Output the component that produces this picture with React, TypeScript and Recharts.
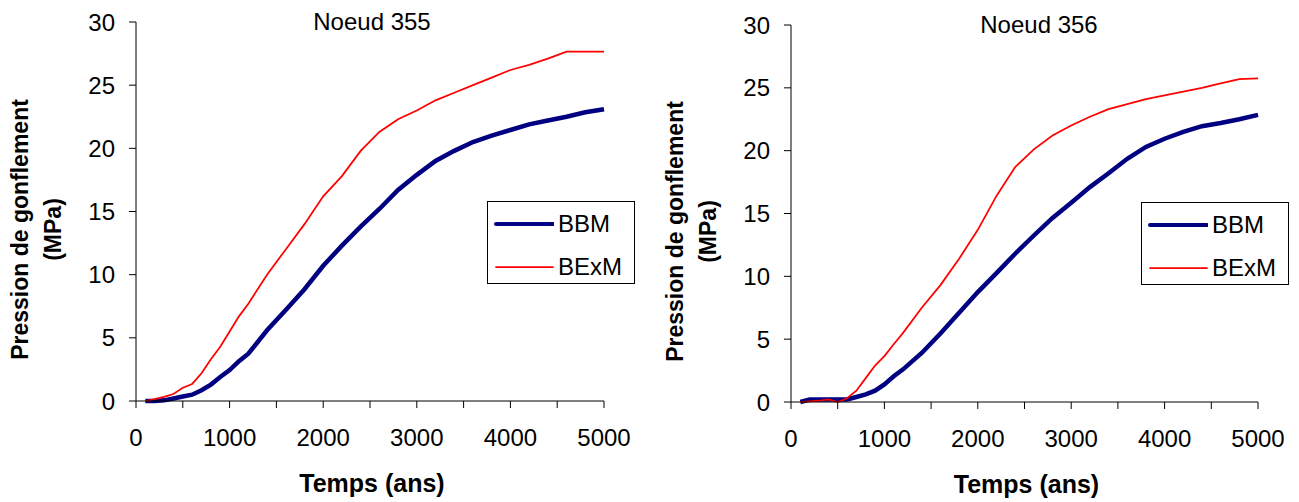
import React from 'react'
import { LineChart, Line, XAxis, YAxis, Legend } from 'recharts'

// time axis shared by both nodes (ans)
const years = [
  100, 200, 300, 400, 500, 600, 700, 800, 900, 1000, 1100, 1200, 1400, 1600,
  1800, 2000, 2200, 2400, 2600, 2800, 3000, 3200, 3400, 3600, 3800, 4000, 4200,
  4400, 4600, 4800, 5000,
]

// Noeud 355 (MPa)
const n355Bbm = [
  0, 0, 0.05, 0.2, 0.35, 0.5, 0.85, 1.3, 1.9, 2.45, 3.15, 3.75, 5.6, 7.2, 8.85,
  10.7, 12.3, 13.8, 15.2, 16.7, 17.9, 19.0, 19.8, 20.5, 21.0, 21.45, 21.9, 22.2,
  22.5, 22.85, 23.1,
]
const n355Bexm = [
  0, 0.15, 0.32, 0.55, 1.05, 1.35, 2.2, 3.3, 4.3, 5.5, 6.7, 7.7, 10.0, 12.0, 14.0,
  16.2, 17.8, 19.8, 21.3, 22.3, 23.0, 23.8, 24.4, 25.0, 25.6, 26.2, 26.6, 27.1,
  27.65, 27.65, 27.65,
]

// Noeud 356 (MPa)
const n356Bbm = [
  0, 0.2, 0.2, 0.2, 0.2, 0.2, 0.4, 0.6, 0.9, 1.4, 2.05, 2.6, 3.9, 5.45, 7.1, 8.75,
  10.25, 11.8, 13.25, 14.65, 15.85, 17.1, 18.2, 19.35, 20.3, 20.95, 21.5, 21.95,
  22.2, 22.5, 22.85,
]
const n356Bexm = [
  0, 0.05, 0.1, 0.2, 0, 0.3, 0.9, 1.9, 2.9, 3.65, 4.6, 5.5, 7.5, 9.3, 11.4, 13.7,
  16.4, 18.7, 20.1, 21.2, 22.0, 22.7, 23.3, 23.7, 24.1, 24.4, 24.7, 25.0, 25.35,
  25.7, 25.75,
]

const xTicks = [0, 500, 1000, 1500, 2000, 2500, 3000, 3500, 4000, 4500, 5000]
const yTicks = [0, 5, 10, 15, 20, 25, 30]

const FONT = '"Liberation Sans", Arial, sans-serif'
const BLUE = '#000080'
const RED = '#ff0000'

const buildData = (bbm: number[], bexm: number[]) =>
  years.map((t, i) => ({ t, BBM: bbm[i], BExM: bexm[i] }))

function YTitle({ viewBox }: any) {
  const left = viewBox.x + viewBox.width
  const cy = viewBox.y + viewBox.height / 2 + 18
  const style = { fontFamily: FONT, fontSize: 23, fontWeight: 700, fill: '#000' }
  return (
    <g>
      <text x={left - 108} y={cy} transform={`rotate(-90 ${left - 108} ${cy})`} textAnchor="middle" style={style}>
        Pression de gonflement
      </text>
      <text x={left - 75} y={cy} transform={`rotate(-90 ${left - 75} ${cy})`} textAnchor="middle" style={style}>
        (MPa)
      </text>
    </g>
  )
}

function XTitle({ viewBox }: any) {
  return (
    <text
      x={viewBox.x + viewBox.width / 2 + 2}
      y={viewBox.y + 91}
      textAnchor="middle"
      style={{ fontFamily: FONT, fontSize: 25, fontWeight: 700, fill: '#000' }}
    >
      Temps (ans)
    </text>
  )
}

function LegendBox({ payload }: any) {
  return (
    <div
      style={{
        border: '1px solid #000',
        background: '#fff',
        width: 146,
        height: 81,
        boxSizing: 'content-box',
        fontFamily: FONT,
        fontSize: 24,
        position: 'relative',
      }}
    >
      {(payload || []).map((entry: any, i: number) => (
        <div key={entry.value} style={{ position: 'absolute', left: 0, top: i === 0 ? 7 : 50, height: 30, width: 146 }}>
          <svg width={66} height={30} style={{ position: 'absolute', left: 0, top: 0 }}>
            <line
              x1={8}
              x2={65}
              y1={15}
              y2={15}
              stroke={entry.color}
              strokeWidth={entry.value === 'BBM' ? 4 : 1.75}
              strokeLinecap="round"
            />
          </svg>
          <span style={{ position: 'absolute', left: 70, top: 1, lineHeight: '28px', color: '#000' }}>
            {entry.value}
          </span>
        </div>
      ))}
    </div>
  )
}

interface PanelProps {
  bbm: number[]
  bexm: number[]
  width: number
  margin: { top: number; right: number; left: number; bottom: number }
  legendLeft: number
  legendTop: number
}

function Panel({ bbm, bexm, width, margin, legendLeft, legendTop }: PanelProps) {
  const data = buildData(bbm, bexm)
  const tickStyle = { fontFamily: FONT, fontSize: 24, fill: '#000' }
  return (
    <LineChart width={width} height={502} data={data} margin={margin}>
      <XAxis
        dataKey="t"
        type="number"
        domain={[0, 5000]}
        ticks={xTicks}
        interval={0}
        tickFormatter={(v: number) => (v % 1000 === 0 ? String(v) : '')}
        stroke="#000"
        tickSize={7}
        tickMargin={21}
        tick={tickStyle}
        height={30}
        label={<XTitle />}
      />
      <YAxis
        type="number"
        domain={[0, 30]}
        ticks={yTicks}
        interval={0}
        stroke="#000"
        tickSize={7}
        tickMargin={14}
        tick={tickStyle}
        width={60}
        label={<YTitle />}
      />
      <Legend
        layout="vertical"
        align="center"
        verticalAlign="middle"
        content={<LegendBox />}
        wrapperStyle={{ left: legendLeft, top: legendTop, width: 148, height: 83 }}
      />
      <Line
        type="linear"
        dataKey="BBM"
        stroke={BLUE}
        strokeWidth={4.5}
        dot={false}
        isAnimationActive={false}
      />
      <Line
        type="linear"
        dataKey="BExM"
        stroke={RED}
        strokeWidth={1.75}
        dot={false}
        isAnimationActive={false}
      />
    </LineChart>
  )
}

export default function App() {
  const titleStyle = { fontFamily: FONT, fontSize: 24, fill: '#000' }
  return (
    <div style={{ position: 'absolute', left: 0, top: 0, width: 1299, height: 502, background: '#fff' }}>
      <div style={{ position: 'absolute', left: 0, top: 0 }}>
        <Panel
          bbm={n355Bbm}
          bexm={n355Bexm}
          width={650}
          margin={{ top: 22, right: 46, left: 76, bottom: 71 }}
          legendLeft={487}
          legendTop={201}
        />
      </div>
      <div style={{ position: 'absolute', left: 650, top: 0 }}>
        <Panel
          bbm={n356Bbm}
          bexm={n356Bexm}
          width={649}
          margin={{ top: 25, right: 41, left: 81, bottom: 70 }}
          legendLeft={491}
          legendTop={202}
        />
      </div>
      <svg width={1299} height={502} style={{ position: 'absolute', left: 0, top: 0, pointerEvents: 'none' }}>
        <text x={372} y={30} textAnchor="middle" style={titleStyle}>
          Noeud 355
        </text>
        <text x={1039} y={33} textAnchor="middle" style={titleStyle}>
          Noeud 356
        </text>
      </svg>
    </div>
  )
}
